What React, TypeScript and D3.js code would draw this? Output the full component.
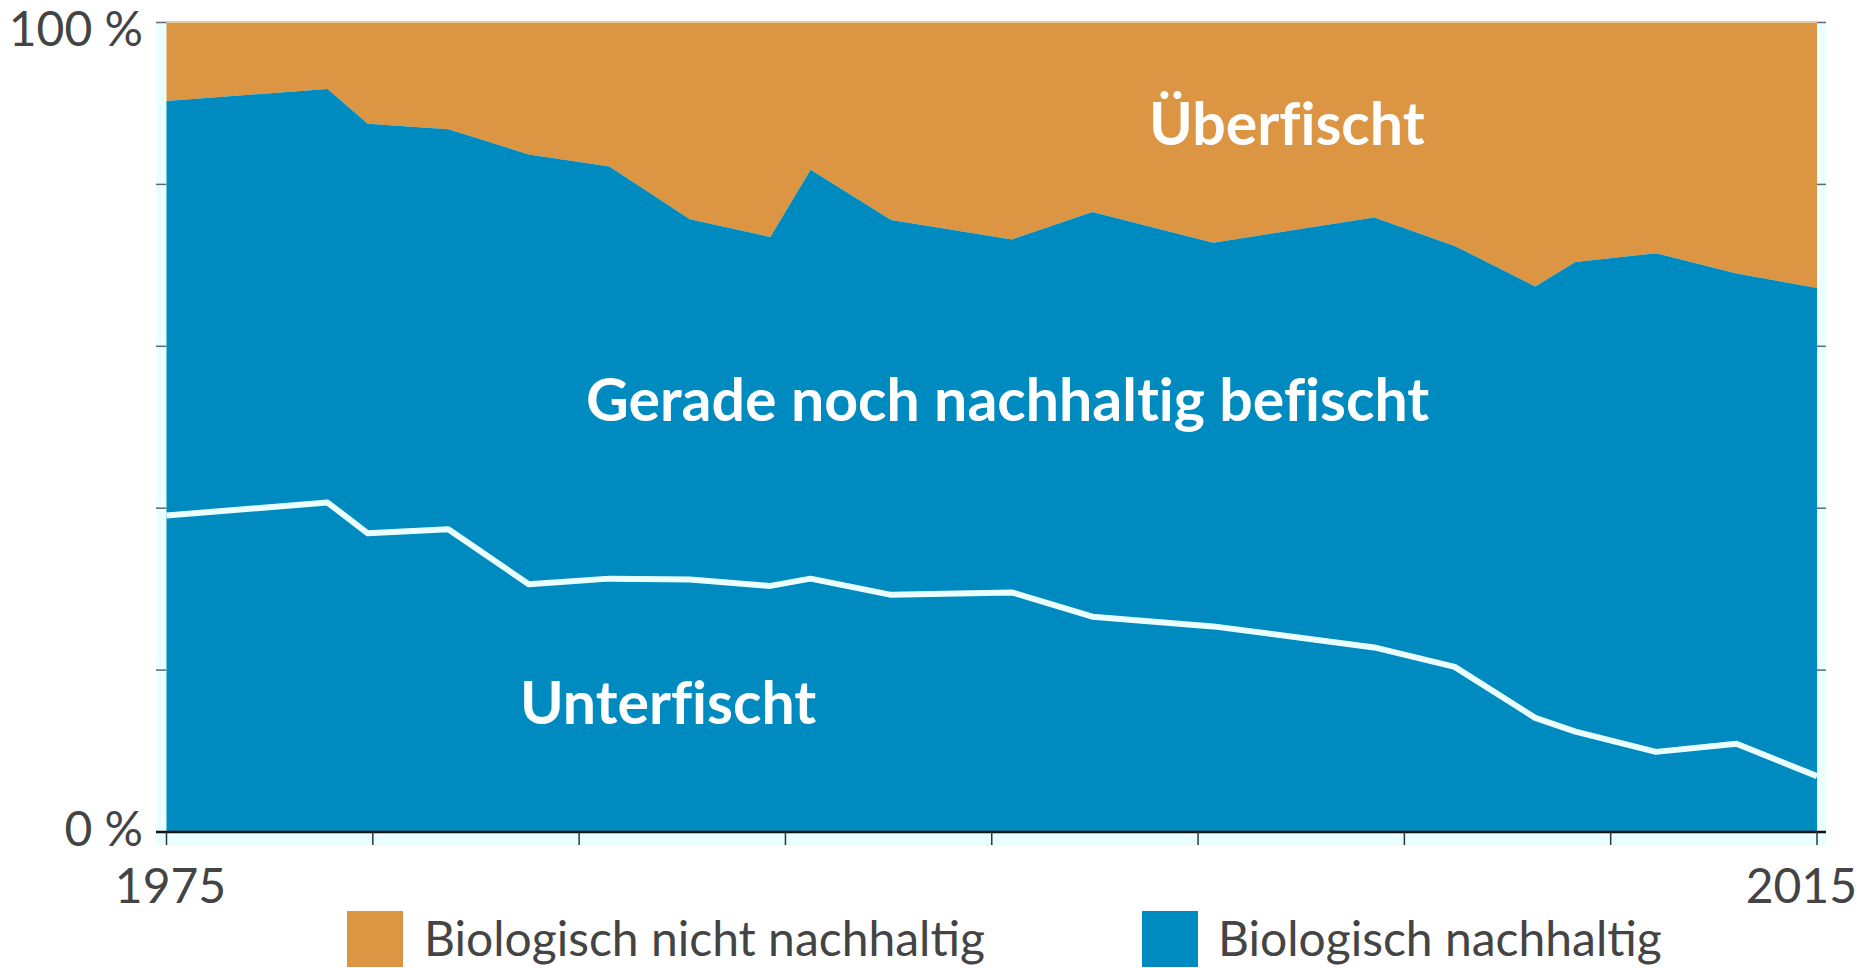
import React from "react";
import * as d3 from "d3";

const years = [1974, 1978, 1979, 1981, 1983, 1985, 1987, 1989, 1990, 1992, 1995, 1997, 2000, 2004, 2006, 2008, 2009, 2011, 2013, 2015];
const sustainable = [90.3, 91.8, 87.5, 86.8, 83.7, 82.2, 75.7, 73.5, 81.8, 75.6, 73.2, 76.6, 72.8, 75.9, 72.4, 67.4, 70.4, 71.5, 69.0, 67.2];
const underfished = [39.1, 40.7, 36.9, 37.4, 30.6, 31.3, 31.2, 30.4, 31.3, 29.3, 29.6, 26.6, 25.4, 22.8, 20.4, 14.1, 12.4, 9.9, 10.9, 6.9];
const xTickLabels = ["1975", "2015"];
const yTickValues = [0, 20, 40, 60, 80, 100];
const yTickLabels = ["0 %", "100 %"];
const legendLabels = ["Biologisch nicht nachhaltig", "Biologisch nachhaltig"];
const areaLabels = ["Überfischt", "Gerade noch nachhaltig befischt", "Unterfischt"];

const ORANGE = "#dc9543";
const BLUE = "#008bc0";
const PALE = "#eaffff";
const TEXT = "#444444";

export default function App() {
  const W = 1866, H = 968;
  const x0 = 166.5, x1 = 1817, yTop = 22.5, yBot = 832;
  const x = d3.scaleLinear().domain([years[0], years[years.length - 1]]).range([x0, x1]);
  const y = d3.scaleLinear().domain([0, 100]).range([yBot, yTop]);
  const data = years.map((yr, i) => ({ yr, s: sustainable[i], u: underfished[i] }));

  const orangeArea = d3.area<any>().x(d => x(d.yr)).y0(d => y(d.s)).y1(() => y(100))(data) || "";
  const blueArea = d3.area<any>().x(d => x(d.yr)).y0(() => y(0)).y1(d => y(d.s))(data) || "";
  const line = d3.line<any>().x(d => x(d.yr)).y(d => y(d.u))(data) || "";

  const [dMin, dMax] = x.domain();
  const xTicks = d3.range(9).map(i => dMin + (i * (dMax - dMin)) / 8);

  const font = "Lato, 'Open Sans', sans-serif";
  const boldStyle = { fontVariantLigatures: "none" as const };

  return (
    <svg width={W} height={H} style={{ position: "absolute", left: 0, top: 0, display: "block" }} fontFamily={font}>
      <rect x={156} y={21} width={1826 - 156} height={846 - 21} fill={PALE} />
      <path d={orangeArea} fill={ORANGE} />
      <path d={blueArea} fill={BLUE} />
      <path d={line} fill="none" stroke={PALE} strokeWidth={6} strokeLinejoin="round" />
      <line x1={x0} x2={x1} y1={yTop - 1} y2={yTop - 1} stroke="#cccccc" strokeWidth={1} />

      {yTickValues.map(v => (
        <g key={"yt" + v}>
          <line x1={156} x2={x0} y1={y(v)} y2={y(v)} stroke="#5a6a7a" strokeWidth={1.5} />
          <line x1={x1} x2={1826} y1={y(v)} y2={y(v)} stroke="#5a6a7a" strokeWidth={1.5} />
        </g>
      ))}
      <line x1={156} x2={1826} y1={yBot} y2={yBot} stroke="#111" strokeWidth={2.5} />
      {xTicks.map((t, i) => (
        <line key={"xt" + i} x1={x(t)} x2={x(t)} y1={yBot} y2={845} stroke="#333" strokeWidth={1.5} />
      ))}

      <text x={143} y={y(0) + 14} textAnchor="end" fontSize={48} fill={TEXT}>{yTickLabels[0]}</text>
      <text x={143} y={y(100) + 23} textAnchor="end" fontSize={48} fill={TEXT}>{yTickLabels[1]}</text>
      <text x={x(xTicks[0]) + 4} y={903} textAnchor="middle" fontSize={48} fill={TEXT}>{xTickLabels[0]}</text>
      <text x={1857} y={903} textAnchor="end" fontSize={48} fill={TEXT}>{xTickLabels[1]}</text>

      <text x={1149} y={145} fontSize={59} fontWeight={700} fill="#ffffff" style={boldStyle}>{areaLabels[0]}</text>
      <text x={586} y={421} fontSize={59} fontWeight={700} fill="#ffffff" style={boldStyle}>{areaLabels[1]}</text>
      <text x={520} y={724} fontSize={59} fontWeight={700} fill="#ffffff" style={boldStyle}>{areaLabels[2]}</text>

      <rect x={347} y={911} width={56} height={56} fill={ORANGE} />
      <text x={424} y={956} fontSize={48} fill={TEXT}>{legendLabels[0]}</text>
      <rect x={1142} y={911} width={56} height={56} fill={BLUE} />
      <text x={1218} y={956} fontSize={48} fill={TEXT}>{legendLabels[1]}</text>
    </svg>
  );
}
